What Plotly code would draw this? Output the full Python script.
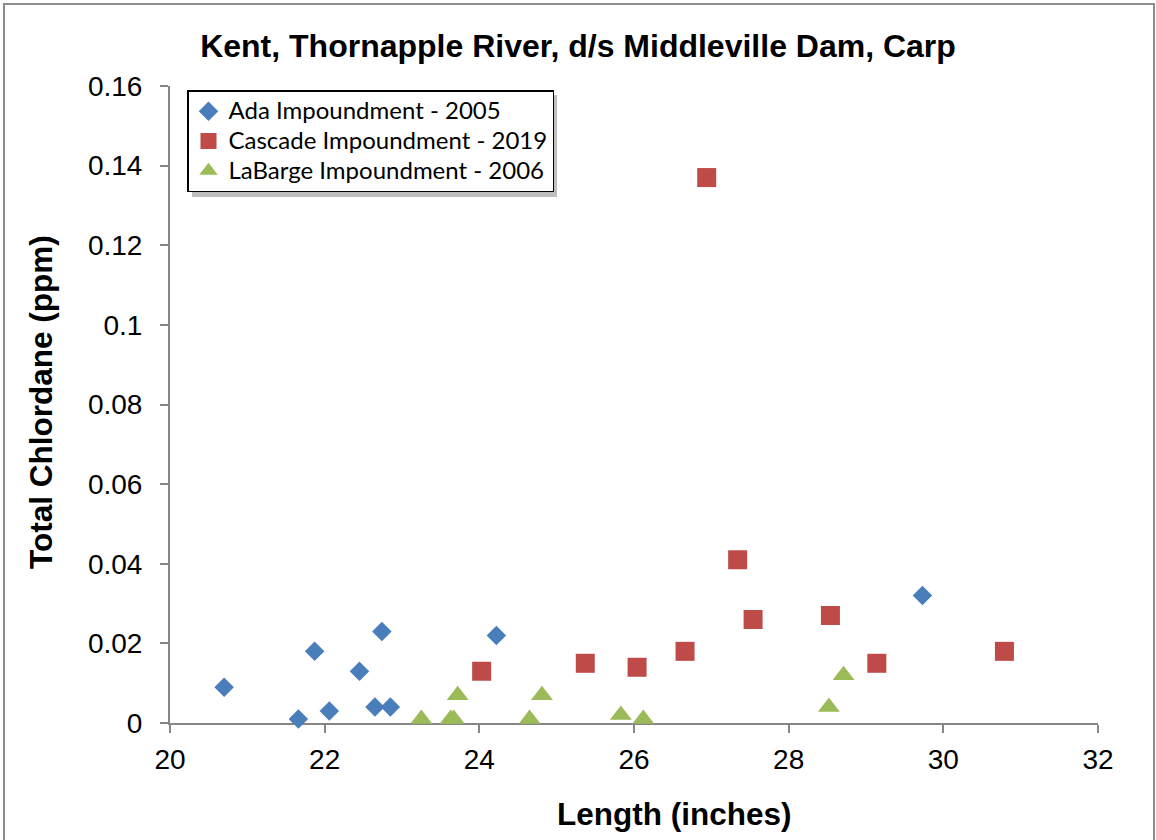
import plotly.graph_objects as go

# ---- data ----
ada_len = [20.70, 21.66, 21.87, 22.06, 22.45, 22.65, 22.74, 22.85, 24.22, 29.73]
ada_chl = [0.009, 0.001, 0.018, 0.003, 0.013, 0.004, 0.023, 0.004, 0.022, 0.032]

cascade_len = [24.03, 25.37, 26.04, 26.66, 26.94, 27.34, 27.54, 28.54, 29.14, 30.79]
cascade_chl = [0.013, 0.015, 0.014, 0.018, 0.137, 0.041, 0.026, 0.027, 0.015, 0.018]

labarge_len = [23.25, 23.63, 23.67, 23.72, 24.65, 24.81, 25.83, 26.12, 28.52, 28.71]
labarge_chl = [0.001, 0.001, 0.001, 0.007, 0.001, 0.007, 0.002, 0.001, 0.004, 0.012]

series_names = ["Ada Impoundment - 2005", "Cascade Impoundment - 2019", "LaBarge Impoundment - 2006"]

x_ticks = [20, 22, 24, 26, 28, 30, 32]
y_ticks = [0, 0.02, 0.04, 0.06, 0.08, 0.1, 0.12, 0.14, 0.16]
y_tick_labels = ["0", "0.02", "0.04", "0.06", "0.08", "0.1", "0.12", "0.14", "0.16"]

title_text = "Kent, Thornapple River, d/s Middleville Dam, Carp"
x_title = "Length (inches)"
y_title = "Total Chlordane (ppm)"

# ---- figure ----
W, H = 1156, 840
L, R, T, B = 170, 58, 86, 117
pw, ph = W - L - R, H - T - B

def px_x(p):
    return (p - L) / pw

def px_y(p):
    return (H - B - p) / ph

FONT = "Liberation Sans, Arial, sans-serif"
AX = "#868686"
LEG_FONT_SIZE = 20.5  # sets row spacing
LEG_TEXT_PX = 24      # visible glyph size of legend labels

def leg_name(s):
    return '<span style="font-size:%dpx">%s</span>' % (LEG_TEXT_PX, s)

fig = go.Figure()
fig.add_trace(go.Scatter(x=ada_len, y=ada_chl, mode="markers", name=leg_name(series_names[0]),
                         marker=dict(symbol="diamond", size=15, color="#4A7EBB", line=dict(width=0)),
                         cliponaxis=False))
fig.add_trace(go.Scatter(x=cascade_len, y=cascade_chl, mode="markers", name=leg_name(series_names[1]),
                         marker=dict(symbol="square", size=19, color="#BE4B48", line=dict(width=0)),
                         cliponaxis=False))
fig.add_trace(go.Scatter(x=labarge_len, y=labarge_chl, mode="markers", name=leg_name(series_names[2]),
                         marker=dict(symbol="triangle-up", size=19, color="#9BBB59", line=dict(width=0)),
                         cliponaxis=False))

fig.update_layout(
    width=W, height=H,
    margin=dict(l=L, r=R, t=T, b=B, pad=0),
    paper_bgcolor="white", plot_bgcolor="white",
    font=dict(family=FONT, color="black"),
    title=dict(text="<b>" + title_text + "</b>", x=0.5, xanchor="center",
               y=1 - 46 / H, yanchor="middle", font=dict(size=32, family=FONT)),
    showlegend=True,
    legend=dict(x=px_x(187), y=px_y(90), xanchor="left", yanchor="top",
                bgcolor="white", bordercolor="black", borderwidth=1.5,
                font=dict(family="Lato, Calibri, sans-serif", size=LEG_FONT_SIZE),
                itemsizing="trace"),
    xaxis=dict(range=[20, 32], tickvals=x_ticks, showgrid=False, zeroline=False,
               showline=True, linecolor=AX, linewidth=2, ticks="outside", ticklen=8,
               tickcolor=AX, tickwidth=2, tickfont=dict(size=28), layer="below traces",
               ticklabelstandoff=2),
    yaxis=dict(range=[0, 0.16], tickvals=y_ticks, ticktext=y_tick_labels, showgrid=False,
               zeroline=False, showline=True, linecolor=AX, linewidth=2, ticks="outside",
               ticklen=8, tickcolor=AX, tickwidth=2, tickfont=dict(size=28),
               layer="below traces", ticklabelstandoff=12),
    annotations=[
        dict(text="<b>" + x_title + "</b>", xref="paper", yref="paper",
             x=px_x(674), y=px_y(814), xanchor="center", yanchor="middle",
             showarrow=False, font=dict(size=31.5, family=FONT)),
        dict(text="<b>" + y_title + "</b>", xref="paper", yref="paper",
             x=px_x(41), y=px_y(402), xanchor="center", yanchor="middle",
             textangle=-90, showarrow=False, font=dict(size=31.5, family=FONT)),
    ],
    shapes=[
        # outer chart frame
        dict(type="rect", xref="paper", yref="paper",
             x0=px_x(4), x1=px_x(1154), y0=px_y(850), y1=px_y(4),
             line=dict(color="#8C8C8C", width=2), fillcolor="rgba(0,0,0,0)", layer="below"),
        # legend drop shadow
        dict(type="rect", xref="paper", yref="paper",
             x0=px_x(192), x1=px_x(557), y0=px_y(197), y1=px_y(95),
             line=dict(width=0), fillcolor="rgba(0,0,0,0.25)", layer="above"),
    ],
)

fig.write_html("out.html", config={"displayModeBar": False},
               post_script="document.body.style.margin='0';document.body.style.overflow='hidden';")
